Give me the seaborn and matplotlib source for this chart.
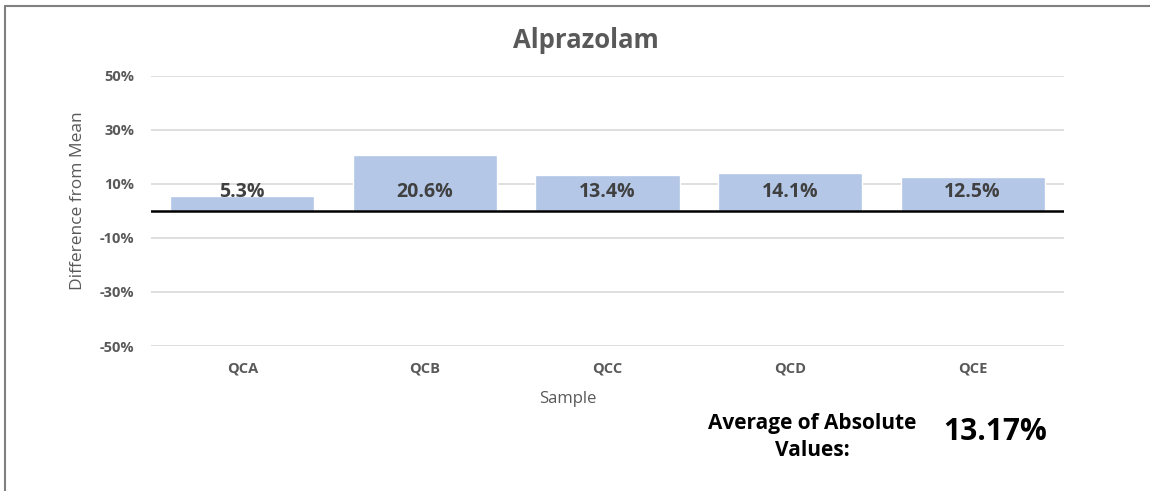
import pandas as pd
import matplotlib.pyplot as plt
import matplotlib.lines as mlines
import seaborn as sns

samples = ["QCA", "QCB", "QCC", "QCD", "QCE"]
diff_pct = [5.3, 20.6, 13.4, 14.1, 12.5]
y_ticks = [-50, -30, -10, 10, 30, 50]
avg_abs = "13.17%"

sns.set_theme(style="white")
plt.rcParams['font.family'] = ['Open Sans', 'DejaVu Sans']

df = pd.DataFrame({"Sample": samples, "Diff": diff_pct})

fig = plt.figure(figsize=(11.5, 4.91), dpi=100, facecolor='white')
ax = fig.add_axes([0.1313, 0.2953, 0.7939, 0.5509])

sns.barplot(data=df, x="Sample", y="Diff", color="#B4C7E7", width=0.79,
            saturation=1, ax=ax, zorder=2)

ax.set_ylim(-50, 50)
ax.set_yticks(y_ticks)
ax.set_yticklabels([f"{t}%" for t in y_ticks])
ax.grid(axis='y', color='#D9D9D9', linewidth=1.2, zorder=0)
ax.axhline(0, color='black', linewidth=1.8, zorder=3)
for s in ax.spines.values():
    s.set_visible(False)
ax.tick_params(axis='both', length=0, labelsize=10.5, labelcolor='#595959')
for lbl in ax.get_xticklabels() + ax.get_yticklabels():
    lbl.set_fontweight('bold')
ax.tick_params(axis='y', pad=12)
ax.tick_params(axis='x', pad=11)

# data labels
for i, v in enumerate(diff_pct):
    ax.text(i, 7.0, f"{v}%", ha='center', va='center', fontsize=14,
            fontweight='bold', color='#404040', zorder=4)

fig.text(586 / 1150, 1 - 41 / 491, "Alprazolam", ha='center', va='center',
         fontsize=18.5, fontweight='bold', color='#595959')
ax.set_xlabel("Sample", fontsize=12, color='#595959')
ax.xaxis.set_label_coords((568 - 151) / 913, -(391 - 346) / 270.5)
ax.set_ylabel("Difference from Mean", fontsize=12.5, color='#595959')
ax.yaxis.set_label_coords(-(151 - 86) / 913, 0.5 + (211 - 201) / 270.5)

fig.text(812 / 1150, 1 - 437 / 491, "Average of Absolute\nValues:", ha='center', va='center',
         fontsize=15, fontweight='bold', color='black', linespacing=1.4)
fig.text(995 / 1150, 1 - 432 / 491, avg_abs, ha='center', va='center',
         fontsize=21.5, fontweight='bold', color='black')

# chart frame (top and left edges visible)
fig.add_artist(mlines.Line2D([5 / 1150, 1], [1 - 6 / 491, 1 - 6 / 491],
                             transform=fig.transFigure, color='#808080', linewidth=1.5))
fig.add_artist(mlines.Line2D([5 / 1150, 5 / 1150], [0, 1 - 6 / 491],
                             transform=fig.transFigure, color='#808080', linewidth=1.5))

fig.savefig("out.png", dpi=100, facecolor='white')
